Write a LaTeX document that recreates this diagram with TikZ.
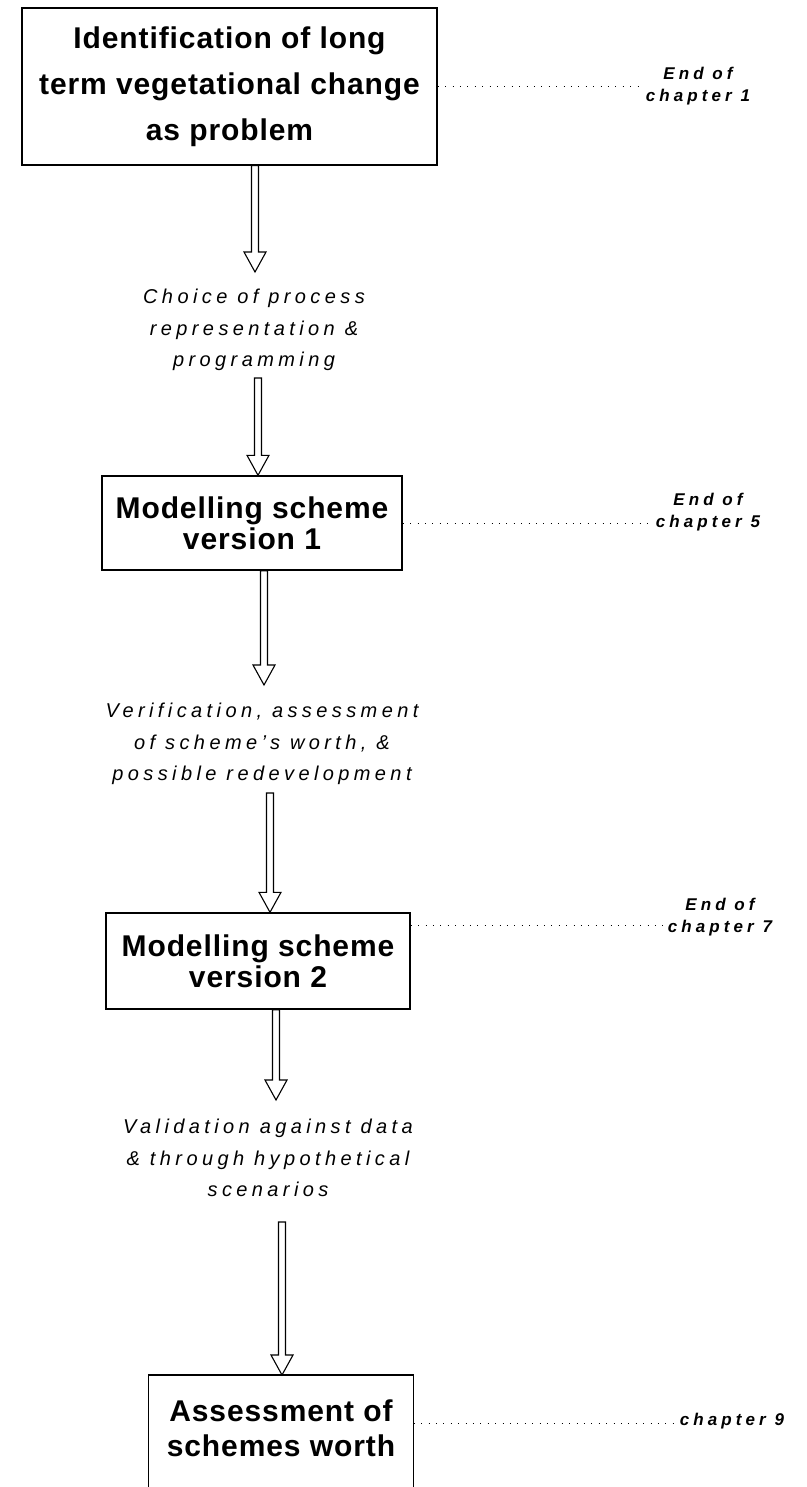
\documentclass[tikz,border=0pt]{standalone}
\usepackage{fontspec}
\setmainfont{Liberation Sans}
\newfontfamily\boxfont{Liberation Sans}[LetterSpace=3]
\newfontfamily\stepfont{Liberation Sans}[LetterSpace=22]
\newfontfamily\chapfont{Liberation Sans}[LetterSpace=24]
\usetikzlibrary{calc}
\newcommand\harrow[2]{\draw[arrowshape] ($(#1)+(-3.5,0)$) -- ($(#2)+(-3.5,20)$) -- ($(#2)+(-11,20)$) -- (#2) -- ($(#2)+(11,20)$) -- ($(#2)+(3.5,20)$) -- ($(#1)+(3.5,0)$) -- cycle;}
\begin{document}
\begin{tikzpicture}[x=1pt,y=1pt,
 boxnode/.style={draw, line width=1.4pt, inner sep=0pt, align=center, font=\boxfont\bfseries\fontsize{30}{46}\selectfont},
 boxtight/.style={boxnode, font=\boxfont\bfseries\fontsize{30}{31}\selectfont},
 steptext/.style={align=center, inner sep=0pt, font=\stepfont\itshape\fontsize{20}{31.5}\selectfont},
 chaptext/.style={align=center, inner sep=0pt, font=\chapfont\bfseries\itshape\fontsize{17}{22}\selectfont},
 dotline/.style={line width=0.9pt, dash pattern=on 0.9pt off 6.5pt},
 arrowshape/.style={line width=1.1pt, line join=miter}]
\useasboundingbox (0,0) rectangle (806,-1487);
\clip (0,0) rectangle (806,-1487);

% boxes
\node[boxnode, minimum width=415, minimum height=157] (box1) at (229.5,-86.5) {Identification of long\\term vegetational change\\as problem};
\node[boxtight, minimum width=300, minimum height=94] (box2) at (252,-523) {Modelling scheme\\version 1};
\node[boxtight, minimum width=304, minimum height=96] (box3) at (258,-961) {Modelling scheme\\version 2};
\node[boxtight, draw=none, minimum width=264, minimum height=100, font=\boxfont\bfseries\fontsize{30}{35}\selectfont] (box4) at (281,-1428) {Assessment of\\schemes worth};
\draw[line width=1.4pt] ($(box4.south west)+(0,-40)$) |- (box4.north east |- 0,-1375) -- ++(0,-140);

% step texts
\node[steptext] (step1) at (254,-330) {Choice of process\\representation \&\\programming};
\node[steptext] (step2) at (262,-744) {Verification, assessment\\of scheme’s worth, \&\\possible redevelopment};
\node[steptext] (step3) at (268,-1158) {Validation against data\\\& through hypothetical\\scenarios};

% arrows
\coordinate (a1s) at (box1.south -| 255,0);
\coordinate (a1t) at (255,-272);
\coordinate (a2s) at (258,-378);
\coordinate (a2t) at (box2.north -| 258,0);
\coordinate (a3s) at (box2.south -| 264,0);
\coordinate (a3t) at (264,-685);
\coordinate (a4s) at (270,-793);
\coordinate (a4t) at (box3.north -| 270,0);
\coordinate (a5s) at (box3.south -| 276,0);
\coordinate (a5t) at (276,-1100);
\coordinate (a6s) at (282,-1222);
\coordinate (a6t) at (282,-1375);
\harrow{a1s}{a1t}
\harrow{a2s}{a2t}
\harrow{a3s}{a3t}
\harrow{a4s}{a4t}
\harrow{a5s}{a5t}
\harrow{a6s}{a6t}

% chapter labels
\node[chaptext] (lab1) at (698,-86) {End of\\chapter 1};
\node[chaptext] (lab5) at (708,-512) {End of\\chapter 5};
\node[chaptext] (lab7) at (720,-917) {End of\\chapter 7};
\node[chaptext] (lab9) at (732,-1421) {chapter 9};

\coordinate (y7) at (0,-925);
\coordinate (y9) at (0,-1423);
\draw[dotline] (box1.east) -- ($(box1.east -| lab1.west)+(-8,0)$);
\draw[dotline] (box2.east) -- ($(box2.east -| lab5.west)+(-2,0)$);
\draw[dotline] (box3.east |- y7) -- ($(lab7.west |- y7)+(-2,0)$);
\draw[dotline] (a6t -| box4.north east) ++(0,-48) -- ($(lab9.west |- y9)+(-2,0)$);
\end{tikzpicture}
\end{document}
